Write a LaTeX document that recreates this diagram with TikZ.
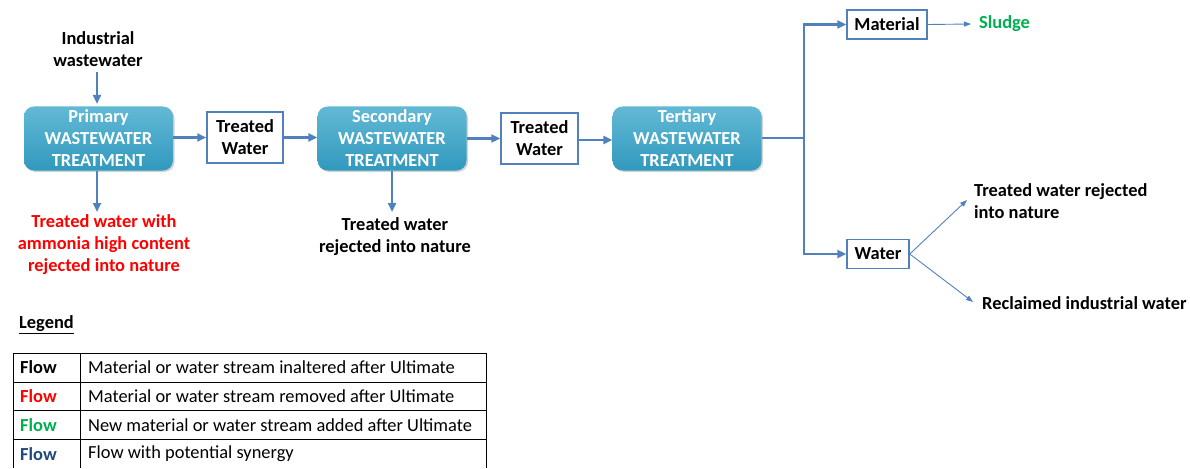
\documentclass[tikz,border=0pt]{standalone}
\usepackage{fontspec}
\setmainfont{Carlito}
\usetikzlibrary{arrows.meta,shadows,calc}
\definecolor{flowblue}{HTML}{4F81BD}
\definecolor{tealtop}{HTML}{62B9D5}
\definecolor{tealbot}{HTML}{3199BE}
\definecolor{newgreen}{HTML}{00B050}
\definecolor{synblue}{HTML}{1F497D}
\tikzset{
  txt/.style={font=\fontsize{18.4}{22}\selectfont\bfseries, align=center, inner sep=0pt},
  plain/.style={font=\fontsize{18.4}{22}\selectfont, inner sep=0pt},
  stage/.style={rounded corners=10pt, minimum width=149pt, minimum height=64pt,
    top color=tealtop, bottom color=tealbot, draw=none, text=white,
    font=\fontsize{18.4}{22}\selectfont\bfseries, align=center, inner sep=0pt,
    drop shadow={opacity=0.35, shadow xshift=1.5pt, shadow yshift=-1.5pt}},
  flowbox/.style={draw=flowblue, line width=1.5pt, fill=white,
    font=\fontsize{18.4}{22}\selectfont\bfseries, align=center, inner sep=0pt},
  mainflow/.style={draw=flowblue, line width=2.5pt, -{Triangle[length=9pt,width=8pt]}},
  mainline/.style={draw=flowblue, line width=2.5pt},
  thinflow/.style={draw=flowblue, line width=0.9pt, -{Triangle[length=7pt,width=5pt]}},
  grid/.style={draw=black, line width=1pt}
}
\begin{document}
\begin{tikzpicture}[x=1pt,y=-1pt]
\useasboundingbox (0,0) rectangle (1190,468);

% input
\node[txt] (ind) at (98,49) {Industrial\\wastewater};

% treatment chain
\node[stage] (prim) at (98.5,138.5) {Primary\\WASTEWATER\\TREATMENT};
\node[flowbox, minimum width=76pt, minimum height=51pt] (tw1) at (245,137.5) {Treated\\Water};
\node[stage] (sec) at (392,138.5) {Secondary\\WASTEWATER\\TREATMENT};
\node[flowbox, minimum width=77pt, minimum height=51pt] (tw2) at (539.5,138.5) {Treated\\Water};
\node[stage] (ter) at (687,138.5) {Tertiary\\WASTEWATER\\TREATMENT};

% outputs
\node[flowbox, minimum width=80pt, minimum height=29pt] (mat) at (887,24.5) {Material};
\node[flowbox, minimum width=62pt, minimum height=29pt] (wat) at (878,254) {Water};
\node[txt, text=newgreen, anchor=west] (sludge) at (979,24) {Sludge};
\node[txt, align=left, anchor=west] (rej) at (974,201) {Treated water rejected\\into nature};
\node[txt, anchor=west] (recl) at (982,303) {Reclaimed industrial water};
\node[txt, text=red] (redtxt) at (104,245) {Treated water with\\ammonia high content\\rejected into nature};
\node[txt] (sectxt) at (395,237) {Treated water\\rejected into nature};

% connectors
\coordinate (indtip) at (97,104);
\draw[mainflow] (97,72) -- (indtip);
\draw[mainflow] (prim.east |- tw1.west) -- (tw1.west);
\draw[mainflow] (tw1.east) -- (sec.west |- tw1.east);
\draw[mainflow] (sec.east) -- (tw2.west);
\draw[mainflow] (tw2.east |- 0,140) -- (ter.west |- 0,140);
\draw[mainflow] (97,171) -- (97,212);
\draw[mainflow] (392,171) -- (392,212);

\coordinate (br) at (804,138);
\draw[mainline] (ter.east |- br) -- (br);
\draw[mainflow] (br) |- (mat.west);
\draw[mainflow] (br) |- (wat.west);

\coordinate (rejtip) at (967,200);
\coordinate (recltip) at (973,302);
\draw[thinflow] (mat.east) -- (sludge.west -| 971,0);
\draw[thinflow] (wat.east) -- (rejtip);
\draw[thinflow] (wat.east) -- (recltip);

% legend
\node[txt, anchor=west] (leg) at (19,325) {\underline{Legend}};
\draw[grid] (13,468) |- (486,353) -- (486,468);
\draw[grid] (13,382) -- (486,382);
\draw[grid] (13,410) -- (486,410);
\draw[grid] (13,439) -- (486,439);
\draw[grid] (80,353) -- (80,468);

\node[txt, anchor=west] (f1) at (20,367.5) {Flow};
\node[txt, anchor=west, text=red] (f2) at (20,396) {Flow};
\node[txt, anchor=west, text=newgreen] (f3) at (20,425) {Flow};
\node[txt, anchor=west, text=synblue] (f4) at (20,454) {Flow};
\node[plain, anchor=west] (d1) at (88,367.5) {Material or water stream inaltered after Ultimate};
\node[plain, anchor=west] (d2) at (88,396) {Material or water stream removed after Ultimate};
\node[plain, anchor=west] (d3) at (88,425) {New material or water stream added after Ultimate};
\node[plain, anchor=west] (d4) at (88,454) {Flow with potential synergy};
\end{tikzpicture}
\end{document}
